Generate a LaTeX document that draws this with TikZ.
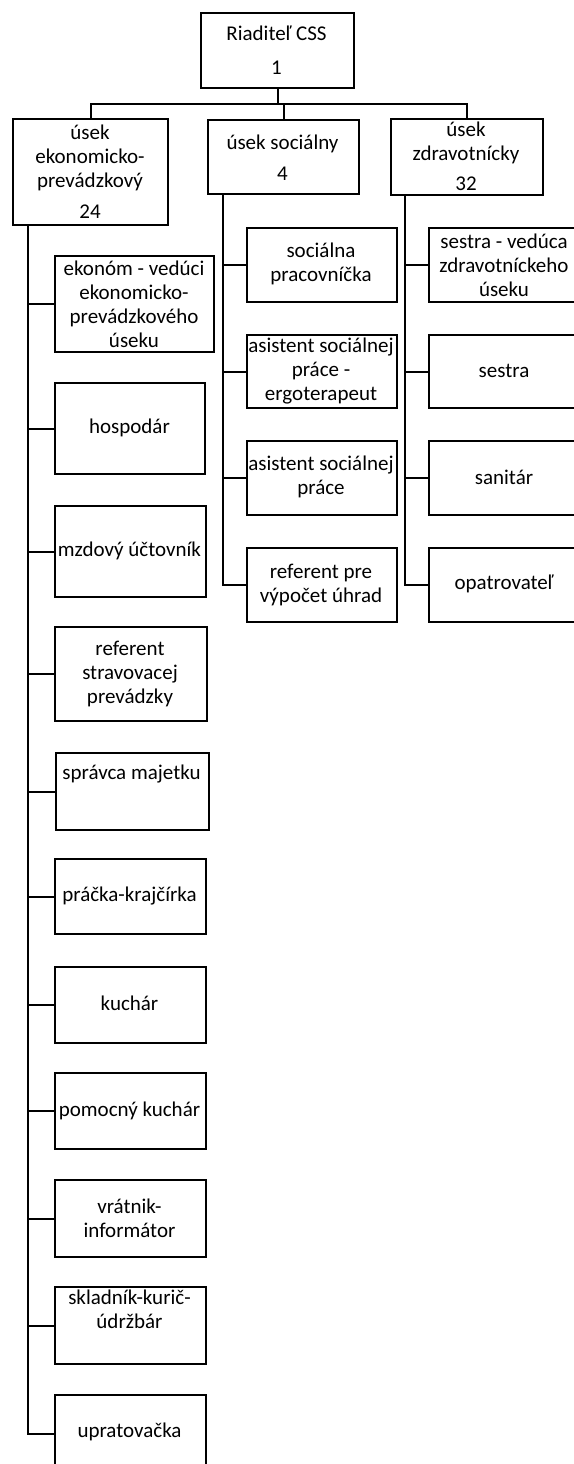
\documentclass[tikz,border=0pt]{standalone}
\usepackage{fontspec}
\setmainfont{Carlito}
\usetikzlibrary{calc}
\tikzset{
  orgbox/.style={draw=black, line width=2.3pt, inner sep=0pt, fill=white},
  conn/.style={draw=black, line width=2.3pt},
  txt/.style={align=center, inner sep=0pt, text=black, font=\fontsize{21}{24}\selectfont}
}
% name, x1, y1, x2, y2 (pixel coordinates, y downwards)
\newcommand\mkbox[5]{%
  \node[orgbox, minimum width={#4-#2}, minimum height={#5-#3}, anchor=north west] (#1) at (#2,-#3) {};}
\begin{document}
\begin{tikzpicture}[x=1pt,y=1pt]
\useasboundingbox (0,0) rectangle (573,-1464);
% top level
\mkbox{root}{200}{12}{353}{87}
\mkbox{dL}{12}{118}{167}{224}
\mkbox{dM}{207}{119}{358}{193}
\mkbox{dR}{390}{118}{542}{194}
% middle column
\mkbox{m1}{246}{227}{396}{301}
\mkbox{m2}{246}{334}{396}{407}
\mkbox{m3}{246}{440}{396}{514}
\mkbox{m4}{246}{547}{396}{621}
% right column
\mkbox{r1}{428}{227}{580}{301}
\mkbox{r2}{428}{334}{580}{407}
\mkbox{r3}{428}{440}{580}{514}
\mkbox{r4}{428}{547}{580}{621}
% left column
\mkbox{l1}{54}{255}{213}{351}
\mkbox{l2}{54}{382}{204}{473}
\mkbox{l3}{54}{505}{205}{596}
\mkbox{l4}{54}{626}{206}{720}
\mkbox{l5}{55}{752}{208}{829}
\mkbox{l6}{54}{858}{205}{933}
\mkbox{l7}{54}{966}{205}{1042}
\mkbox{l8}{54}{1072}{205}{1148}
\mkbox{l9}{54}{1179}{205}{1256}
\mkbox{l10}{54}{1286}{205}{1363}
\mkbox{l11}{54}{1394}{205}{1472}

% connectors
\coordinate (bus) at (276.5,-104);
\draw[conn] (root.south) -- (root.south |- bus);
\draw[conn] (dL.north) |- (bus) -| (dR.north);
\draw[conn] (dM.north) -- (dM.north |- bus);
\foreach \c in {l1,l2,l3,l4,l5,l6,l7,l8,l9,l10,l11}
  \draw[conn] ($(dL.south west)+(16,0)$) |- (\c.west);
\foreach \c in {m1,m2,m3,m4}
  \draw[conn] ($(dM.south west)+(16,0)$) |- (\c.west);
\foreach \c in {r1,r2,r3,r4}
  \draw[conn] ($(dR.south west)+(15,0)$) |- (\c.west);

% texts
\node[txt] (troot) at (276.5,-50) {Riaditeľ CSS\\[10pt]1};
\node[txt] (tdL) at (90,-171.5) {úsek\\ekonomicko-\\prevádzkový\\[7pt]24};
\node[txt] (tdM) at (282.5,-157.5) {úsek sociálny\\[7pt]4};
\node[txt] (tdR) at (466,-156.5) {úsek\\zdravotnícky\\[6pt]32};

\node[txt] (tm1) at (321,-264) {sociálna\\pracovníčka};
\node[txt] (tm2) at (321,-371) {asistent sociálnej\\práce -\\ergoterapeut};
\node[txt] (tm3) at (321,-477) {asistent sociálnej\\práce};
\node[txt] (tm4) at (321,-585) {referent pre\\výpočet úhrad};

\node[txt] (tr1) at (504,-265) {sestra - vedúca\\zdravotníckeho\\úseku};
\node[txt] (tr2) at (504,-371) {sestra};
\node[txt] (tr3) at (504,-477) {sanitár};
\node[txt] (tr4) at (504,-584) {opatrovateľ};

\node[txt] (tl1) at (134,-304) {ekonóm - vedúci\\ekonomicko-\\prevádzkového\\úseku};
\node[txt] (tl2) at (129.5,-428) {hospodár};
\node[txt] (tl3) at (129.5,-551) {mzdový účtovník};
\node[txt] (tl4) at (130,-674) {referent\\stravovacej\\prevádzky};
\node[txt] (tl5) at (131.5,-774) {správca majetku};
\node[txt] (tl6) at (129.5,-896) {práčka-krajčírka};
\node[txt] (tl7) at (129.5,-1003) {kuchár};
\node[txt] (tl8) at (129.5,-1111) {pomocný kuchár};
\node[txt] (tl9) at (129.5,-1218) {vrátnik-\\informátor};
\node[txt] (tl10) at (129.5,-1309) {skladník-kurič-\\údržbár};
\node[txt] (tl11) at (129.5,-1432) {upratovačka};
\end{tikzpicture}
\end{document}
